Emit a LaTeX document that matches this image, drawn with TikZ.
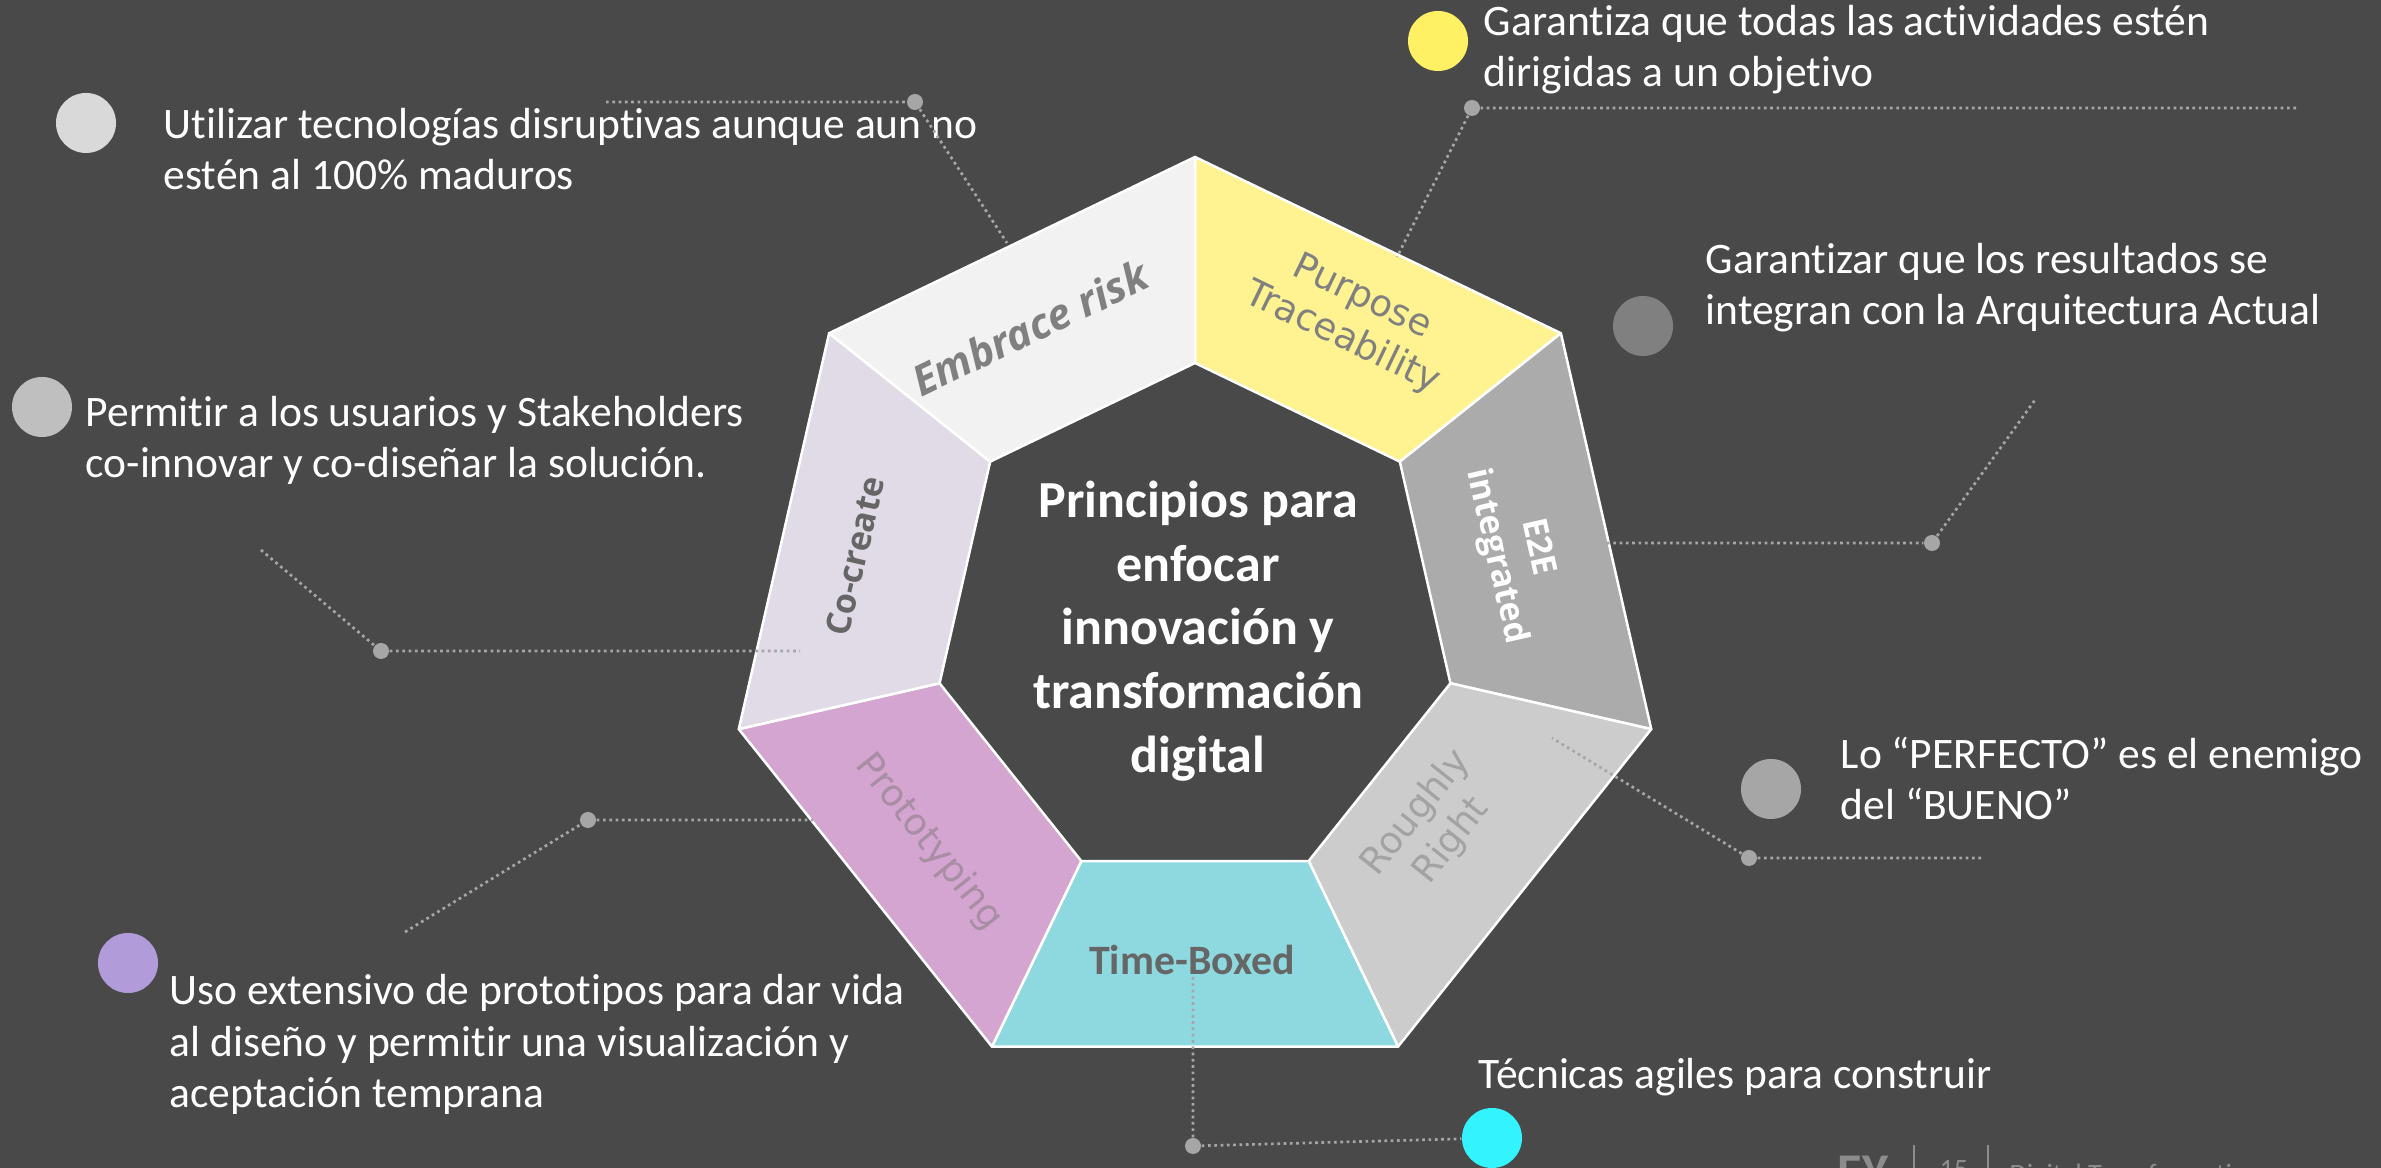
\documentclass[tikz,border=0pt]{standalone}
\usepackage{fontspec}
\setmainfont{Carlito}[Ligatures=NoCommon]
\newfontfamily\vlabel{DejaVu Sans}
\newfontfamily\olabel{Open Sans}
\usepackage{tikz}
\usetikzlibrary{positioning}

\definecolor{bg}{HTML}{494949}
\definecolor{leadgray}{HTML}{A6A6A6}
\definecolor{segPur}{HTML}{FFF391}
\definecolor{segE2E}{HTML}{ABABAB}
\definecolor{segRou}{HTML}{CCCCCC}
\definecolor{segTim}{HTML}{8ED9DF}
\definecolor{segPro}{HTML}{D4A5D0}
\definecolor{segCo}{HTML}{E1DBE8}
\definecolor{segEmb}{HTML}{F2F2F2}
\definecolor{lblgray}{HTML}{808080}
\definecolor{lbldark}{HTML}{666666}
\definecolor{lblRou}{HTML}{A3A3A3}
\definecolor{lblPro}{HTML}{A88EA5}
\definecolor{footgray}{HTML}{8C8C8C}

\tikzset{
  bullet/.style={circle, minimum size=0.6cm, inner sep=0pt},
  desc/.style={anchor=base west, align=left, text=white, inner sep=0pt, font=\fontsize{0.435cm}{0.515cm}\selectfont},
  leader/.style={draw=leadgray, line width=0.027cm, dash pattern=on 0.027cm off 0.036cm},
  jdot/.style={circle, fill=leadgray, minimum size=0.16cm, inner sep=0pt},
  seglabel/.style={align=center, inner sep=0pt},
  vfont/.style={font=\vlabel\fontsize{0.37cm}{0.45cm}\selectfont},
  ofont/.style={font=\olabel\bfseries\fontsize{0.34cm}{0.42cm}\selectfont},
}

\begin{document}
\begin{tikzpicture}[x=0.01cm, y=-0.01cm]
\useasboundingbox (0,0) rectangle (2381,1168);
\fill[bg] (0,0) rectangle (2381,1168);
\clip (0,0) rectangle (2381,1168);

% ring vertices
\foreach \k in {0,...,6} {
  \coordinate (o\k) at ({1195+468*cos(90-360/7*\k)}, {625-468*sin(90-360/7*\k)});
  \coordinate (i\k) at ({1195+262*cos(90-360/7*\k)}, {625-262*sin(90-360/7*\k)});
}
% ring segments
\foreach \k/\c in {0/segPur, 1/segE2E, 2/segRou, 3/segTim, 4/segPro, 5/segCo, 6/segEmb} {
  \pgfmathtruncatemacro\n{mod(\k+1,7)}
  \filldraw[fill=\c, draw=white, line width=0.025cm, line join=round] (o\k) -- (o\n) -- (i\n) -- (i\k) -- cycle;
}

% segment labels
\node[seglabel, vfont, text=lblgray, rotate=-25.71] (lPur) at (1352,318) {Purpose\\Traceability};
\node[seglabel, ofont, text=white, rotate=-77.14] (lE2E) at (1516,552) {E2E\\integrated};
\node[seglabel, vfont, text=lblRou, rotate=51.43] (lRou) at (1434,827) {Roughly\\Right};
\node[seglabel, text=lbldark, font=\bfseries\fontsize{0.418cm}{0.5cm}\selectfont] (lTim) at (1192,960) {Time-Boxed};
\node[seglabel, vfont, text=lblPro, rotate=-51.43] (lPro) at (929,842) {Prototyping};
\node[seglabel, ofont, text=lbldark, rotate=77.14] (lCo) at (855,556) {Co-create};
\node[seglabel, text=lblgray, rotate=25.71, font=\olabel\bfseries\itshape\fontsize{0.42cm}{0.5cm}\selectfont] (lEmb) at (1030,328) {Embrace risk};

% centre
\node[align=center, text=white, inner sep=0pt, font=\bfseries\fontsize{0.52cm}{0.6375cm}\selectfont] (title) at (1198,631) {Principios para\\enfocar\\innovación y\\transformación\\digital};

% bullets and texts (text nodes sit on their last baseline)
\node[bullet, fill={rgb,255:red,217;green,217;blue,217}] (bEmb) at (86,123) {};
\node[desc] (tEmb) at (163,190) {Utilizar tecnologías disruptivas aunque aun no\\estén al 100\% maduros};
\node[bullet, fill={rgb,255:red,191;green,191;blue,191}] (bCo) at (42,407) {};
\node[desc] (tCo) at (85,478) {Permitir a los usuarios y Stakeholders\\co-innovar y co-diseñar la solución.};
\node[bullet, fill={rgb,255:red,177;green,156;blue,217}] (bPro) at (128,963) {};
\node[desc] (tPro) at (169,1108) {Uso extensivo de prototipos para dar vida\\al diseño y permitir una visualización y\\aceptación temprana};
\node[bullet, fill={rgb,255:red,255;green,240;blue,100}] (bPur) at (1438,41) {};
\node[desc] (tPur) at (1483,87) {Garantiza que todas las actividades estén\\dirigidas a un objetivo};
\node[bullet, fill={rgb,255:red,128;green,128;blue,128}] (bE2E) at (1643,326) {};
\node[desc] (tE2E) at (1705,325) {Garantizar que los resultados se\\integran con la Arquitectura Actual};
\node[bullet, fill={rgb,255:red,166;green,166;blue,166}] (bRou) at (1771,789) {};
\node[desc] (tRou) at (1840,820) {Lo “PERFECTO” es el enemigo\\del “BUENO”};
\node[bullet, fill={rgb,255:red,51;green,243;blue,255}] (bTim) at (1492,1138) {};
\node[desc] (tTim) at (1478,1089) {Técnicas agiles para construir};

% leaders
\node[jdot] (dEmb) at (915,102) {};
\coordinate (eEmbA) at (606,102);
\coordinate (eEmbB) at (1007,243);
\draw[leader] (eEmbA) -- (dEmb) -- (eEmbB);

\node[jdot] (dCo) at (381,651) {};
\coordinate (eCoA) at (261,550);
\coordinate (eCoB) at (800,651);
\draw[leader] (eCoA) -- (dCo) -- (eCoB);

\node[jdot] (dPro) at (588,820) {};
\coordinate (eProA) at (405,932);
\coordinate (eProB) at (813,820);
\draw[leader] (eProA) -- (dPro) -- (eProB);

\node[jdot] (dPur) at (1472,108) {};
\coordinate (ePurA) at (2296,108);
\coordinate (ePurB) at (1397,257);
\draw[leader] (ePurA) -- (dPur) -- (ePurB);

\node[jdot] (dE2E) at (1932,543) {};
\coordinate (eE2EA) at (1607,543);
\coordinate (eE2EB) at (2035,400);
\draw[leader] (eE2EA) -- (dE2E) -- (eE2EB);

\node[jdot] (dRou) at (1749,858) {};
\coordinate (eRouA) at (1981,858);
\coordinate (eRouB) at (1552,738);
\draw[leader] (eRouA) -- (dRou) -- (eRouB);

\node[jdot] (dTim) at (1193,1146) {};
\coordinate (eTim) at (1193,977);
\draw[leader] (eTim) -- (dTim) -- (bTim);

% footer
\node[anchor=north west, inner sep=0pt, text=footgray, font=\bfseries\fontsize{0.5cm}{0.6cm}\selectfont] (ey) at (1837,1155) {EY};
\draw[footgray, line width=0.015cm] (1914,1145) -- (1914,1168);
\node[anchor=north west, inner sep=0pt, text=footgray, font=\fontsize{0.28cm}{0.34cm}\selectfont] (page) at (1939,1160) {15};
\draw[footgray, line width=0.015cm] (1988,1145) -- (1988,1168);
\node[anchor=north west, inner sep=0pt, text=footgray, font=\fontsize{0.28cm}{0.34cm}\selectfont] (foot) at (2009,1163) {Digital Transformation};
\end{tikzpicture}
\end{document}
